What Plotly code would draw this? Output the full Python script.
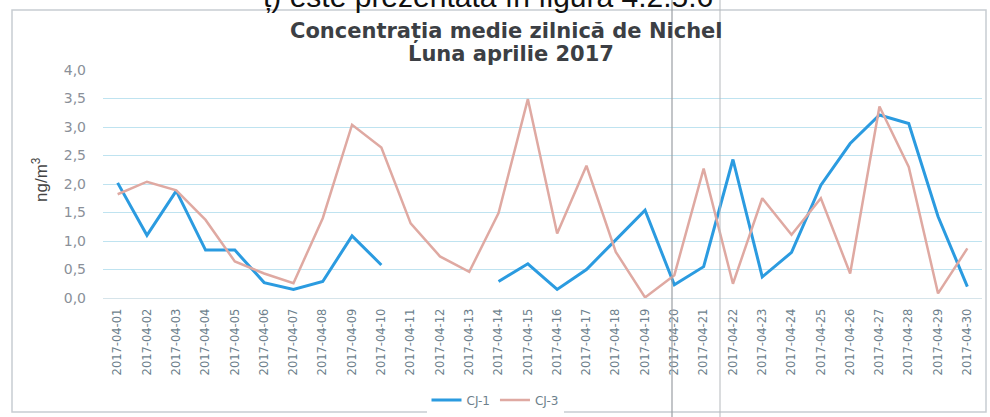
"""
Concentratia medie zilnica de Nichel - aprilie 2017 (CJ-1, CJ-3).
"""
import plotly.graph_objects as go

zile = [f"2017-04-{d:02d}" for d in range(1, 31)]

# ng/m3, None = lipsa date
cj1 = [2.02, 1.10, 1.88, 0.84, 0.84, 0.27, 0.15, 0.29, 1.09, 0.58,
       None, None, None, 0.29, 0.60, 0.15, 0.50, 1.02, 1.54, 0.23,
       0.55, 2.43, 0.37, 0.80, 1.98, 2.71, 3.21, 3.06, 1.43, 0.20]
cj3 = [1.82, 2.04, 1.89, 1.37, 0.64, 0.43, 0.26, 1.40, 3.04, 2.64,
       1.31, 0.73, 0.46, 1.49, 3.49, 1.13, 2.32, 0.81, 0.01, 0.40,
       2.27, 0.25, 1.75, 1.11, 1.75, 0.43, 3.36, 2.30, 0.08, 0.87]

y_ticks = [0, 0.5, 1.0, 1.5, 2.0, 2.5, 3.0, 3.5, 4.0]

W, H = 990, 417
L, R, T, B = 103, 8, 70, 119

fig = go.Figure()
fig.add_trace(go.Scatter(x=zile, y=cj1, name="CJ-1", mode="lines",
                         line=dict(color="#2b9be0", width=3), connectgaps=False))
fig.add_trace(go.Scatter(x=zile, y=cj3, name="CJ-3", mode="lines",
                         line=dict(color="#dfa9a2", width=2.5)))

def px(x):  # pixel orizontal -> coordonata paper
    return (x - L) / (W - L - R)

def py(y):
    return (H - B - y) / (H - T - B)

shapes = [
    # chenarul graficului
    dict(type="rect", xref="paper", yref="paper", x0=px(12), x1=px(986), y0=py(412), y1=py(10),
         line=dict(color="#c8cdd2", width=1.5)),
    # liniile verticale din scanare
    dict(type="line", xref="paper", yref="paper", x0=px(672), x1=px(672), y0=py(417), y1=py(0),
         line=dict(color="#9a9ea3", width=1.2)),
    dict(type="line", xref="paper", yref="paper", x0=px(720), x1=px(720), y0=py(417), y1=py(0),
         line=dict(color="#b5b9bd", width=1)),
]

titlu = dict(family="DejaVu Sans, sans-serif", size=21, color="#3c3f44")
annotations = [
    dict(text="<b>Concentrația medie zilnică de Nichel</b>", x=px(506), y=py(32), font=titlu),
    dict(text="<b>Luna aprilie 2017</b>", x=px(511), y=py(54), font=titlu),
    # randul de text al paginii, taiat sus
    dict(text="ț) este prezentată în figura 4.2.5.6", x=px(488), y=py(-4),
         font=dict(family="Liberation Sans, Arial, sans-serif", size=30, color="#111")),
    dict(text="ng/m<sup>3</sup>", x=px(40), y=py(180), textangle=-90,
         font=dict(family="Liberation Sans, Arial, sans-serif", size=17, color="#444")),
]
for a in annotations:
    a.update(xref="paper", yref="paper", xanchor="center", yanchor="middle", showarrow=False)

fig.update_layout(
    width=W, height=H,
    margin=dict(l=L, r=R, t=T, b=B, autoexpand=False),
    paper_bgcolor="white", plot_bgcolor="white",
    font=dict(family="DejaVu Sans, sans-serif", color="#555"),
    separators=", ",
    xaxis=dict(type="category", range=[-0.5, 29.5], tickangle=-90,
               tickfont=dict(size=11.5, color="#6d7f8c"),
               showgrid=False, showline=True, linecolor="#d6e4ea", ticks="",
               ticklabelstandoff=5, automargin=False),
    yaxis=dict(range=[0, 4.0], tickvals=y_ticks, tickformat=".1f",
               tickfont=dict(size=14, color="#8a9099"), ticklabelstandoff=16,
               gridcolor="#bfe3f0", gridwidth=1, zeroline=False, automargin=False),
    legend=dict(orientation="h", x=px(495), xanchor="center", y=py(400), yanchor="middle",
                font=dict(size=12, color="#6d7f8c"), itemwidth=30, tracegroupgap=0),
    shapes=shapes,
    annotations=annotations,
)

# fara marginea implicita a paginii, ca graficul sa inceapa din colt
fig.write_html("out.html", config={"displayModeBar": False},
               post_script="document.body.style.margin='0';")
